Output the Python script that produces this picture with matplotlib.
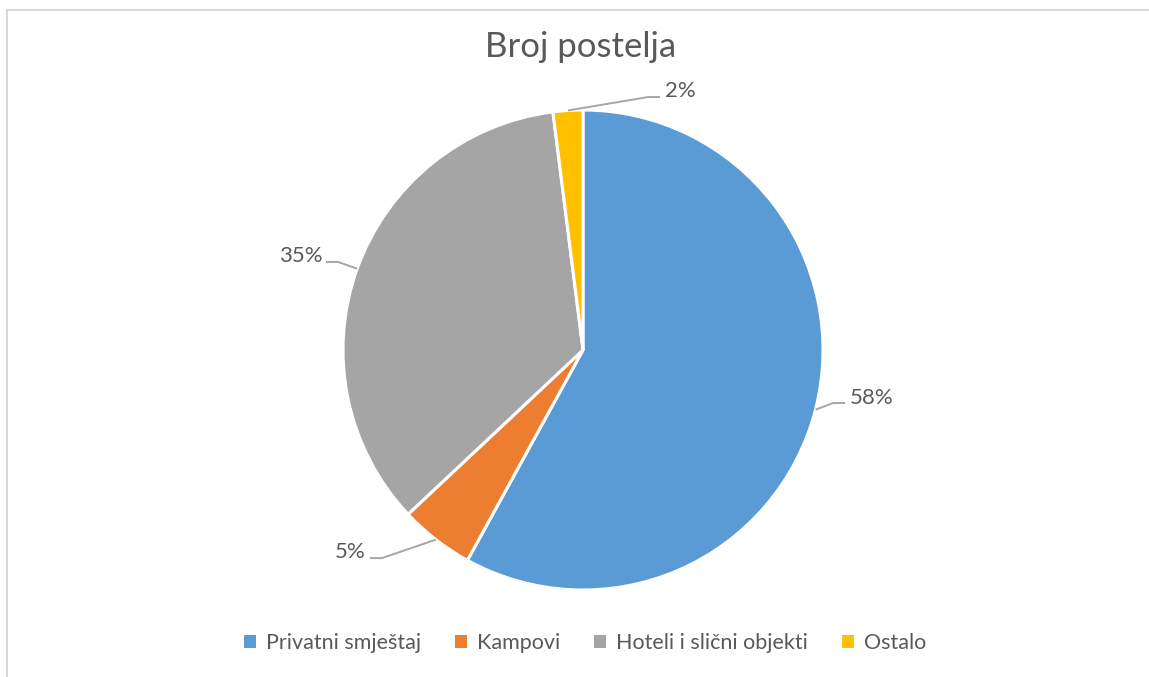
import numpy as np
import matplotlib
matplotlib.use('Agg')
import matplotlib.pyplot as plt
from matplotlib.patches import Patch, Rectangle

categories = ['Privatni smještaj', 'Kampovi', 'Hoteli i slični objekti', 'Ostalo']
shares = [58, 5, 35, 2]
labels = ['58%', '5%', '35%', '2%']
colors = ['#5B9BD5', '#ED7D31', '#A5A5A5', '#FFC000']

plt.rcParams['font.family'] = ['Lato', 'DejaVu Sans']
TXT = '#595959'

W, H = 1149, 677
fig = plt.figure(figsize=(W / 100, H / 100), dpi=100)
ax = fig.add_axes([0, 0, 1, 1])
cx, cy, R = 583, 350, 240  # pie centre / radius in pixels

wedges, _ = ax.pie(shares, colors=colors, startangle=90, counterclock=False,
                   radius=1, center=(0, 0), frame=True,
                   wedgeprops=dict(edgecolor='white', linewidth=2.2))
ax.set_xlim(-cx / R, (W - cx) / R)
ax.set_ylim(-(H - cy) / R, cy / R)
ax.set_aspect('auto')
ax.axis('off')

# label placement (elbow point, text anchor) per wedge, in radius units
place = [
    ((1.042, -0.221), (1.1125, -0.20), 'left'),
    ((-0.8375, -0.867), (-0.905, -0.84), 'right'),
    ((-1.021, 0.367), (-1.085, 0.39), 'right'),
    ((0.271, 1.054), (0.340, 1.08), 'left'),
]
for w, lab, (elb, tpos, ha) in zip(wedges, labels, place):
    mid = np.deg2rad((w.theta1 + w.theta2) / 2)
    ex, ey = np.cos(mid), np.sin(mid)
    hx = elb[0] + (0.05 if ha == 'left' else -0.05)
    ax.plot([ex, elb[0], hx], [ey, elb[1], elb[1]], color='#A6A6A6', lw=1.4,
            solid_capstyle='butt')
    ax.text(tpos[0], tpos[1], lab, ha=ha, va='center', fontsize=16, color=TXT)

fig.text(581 / W, 1 - 47 / H, 'Broj postelja', ha='center', va='center',
         fontsize=25, color=TXT)

handles = [Patch(facecolor=c, edgecolor='none') for c in colors]
fig.legend(handles, categories, loc='center', ncol=4, frameon=False,
           bbox_to_anchor=(585 / W, 1 - 643 / H), fontsize=15.5,
           handlelength=0.55, handleheight=0.55, handletextpad=0.45,
           columnspacing=1.6, labelcolor=TXT)

fig.patches.append(Rectangle((7 / W, -0.02), 1.1, 1 - 10 / H + 0.02,
                             transform=fig.transFigure, fill=False,
                             edgecolor='#D9D9D9', lw=1.5))

fig.savefig('out.png', dpi=100)
